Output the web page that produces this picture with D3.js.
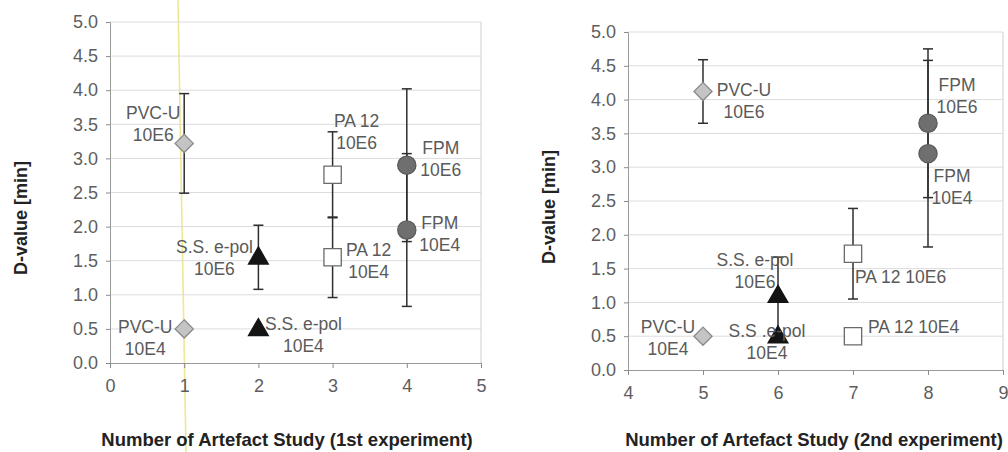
<!DOCTYPE html>
<html>
<head>
<meta charset="utf-8">
<script src="https://cdn.jsdelivr.net/npm/d3@7"></script>
<style>
  html, body { margin: 0; padding: 0; background: #ffffff; }
  svg { display: block; font-family: "Liberation Sans", Arial, sans-serif; }
</style>
</head>
<body>
<svg id="chart" width="1008" height="452"></svg>
<script>
// ---------- data ----------
const yTicks = [0, 0.5, 1, 1.5, 2, 2.5, 3, 3.5, 4, 4.5, 5];
const xTicks1 = [0, 1, 2, 3, 4, 5];
const xTicks2 = [4, 5, 6, 7, 8, 9];
const materials = ["PVC-U", "PVC-U", "S.S. e-pol", "S.S. e-pol", "PA 12", "PA 12", "FPM", "FPM"];

// 1st experiment
const exp1Study = [1, 1, 2, 2, 3, 3, 4, 4];
const exp1D     = [3.22, 0.5, 1.55, 0.5, 2.76, 1.55, 2.9, 1.95];
const exp1Err   = [0.73, 0, 0.47, 0, 0.63, 0.59, 1.12, 1.12];
const exp1Labels = ["PVC-U\n10E6", "PVC-U\n10E4", "S.S. e-pol\n10E6", "S.S. e-pol\n10E4",
                    "PA 12\n10E6", "PA 12\n10E4", "FPM\n10E6", "FPM\n10E4"];

// 2nd experiment
const exp2Study = [5, 5, 6, 6, 7, 7, 8, 8];
const exp2D     = [4.12, 0.5, 1.1, 0.5, 1.72, 0.5, 3.65, 3.2];
const exp2Err   = [0.47, 0, 0.57, 0, 0.67, 0, 1.1, 1.38];
const exp2Labels = ["PVC-U\n10E6", "PVC-U\n10E4", "S.S. e-pol\n10E6", "S.S .e-pol\n10E4",
                    "PA 12 10E6", "PA 12 10E4", "FPM\n10E6", "FPM\n10E4"];

const yTitle = "D-value [min]";
const xTitle1 = "Number of Artefact Study (1st experiment)";
const xTitle2 = "Number of Artefact Study (2nd experiment)";

// ---------- layout (label placement relative to marker) ----------
const labelLayout1 = [
  {a: "middle", dx: -31, dy: -24}, {a: "middle", dx: -39, dy: 4},
  {a: "middle", dx: -44, dy: -4},  {a: "middle", dx: 45, dy: 1},
  {a: "middle", dx: 24, dy: -48},  {a: "middle", dx: 36, dy: -1},
  {a: "middle", dx: 34, dy: -11},  {a: "middle", dx: 33, dy: -1}
];
const labelLayout2 = [
  {a: "middle", dx: 41, dy: 5},   {a: "middle", dx: -35, dy: -3},
  {a: "middle", dx: -23, dy: -30}, {a: "middle", dx: -11, dy: 1},
  {a: "start", dx: 2, dy: 29},    {a: "start", dx: 15, dy: -3},
  {a: "middle", dx: 29, dy: -32}, {a: "middle", dx: 24, dy: 28}
];

const svg = d3.select("#chart");

// scanning artefact: faint yellow line on left panel
svg.append("line")
  .attr("x1", 178).attr("y1", 0).attr("x2", 186).attr("y2", 452)
  .attr("stroke", "#ece27a").attr("stroke-width", 1.6).attr("opacity", 0.8);

function panel(cfg) {
  const x = d3.scaleLinear().domain(cfg.xDomain).range([cfg.left, cfg.right]);
  const y = d3.scaleLinear().domain([0, 5]).range([cfg.bottom, cfg.top]);
  const g = svg.append("g");

  // gridlines
  g.append("g").selectAll("line").data(yTicks.filter(t => t > 0)).join("line")
    .attr("x1", cfg.left).attr("x2", cfg.right)
    .attr("y1", d => y(d)).attr("y2", d => y(d))
    .attr("stroke", "#dcdcdc").attr("stroke-width", 1);
  // right border
  g.append("line").attr("x1", cfg.right).attr("x2", cfg.right)
    .attr("y1", cfg.top).attr("y2", cfg.bottom)
    .attr("stroke", "#cfcfcf");

  // axes
  const yAxis = d3.axisLeft(y).tickValues(yTicks).tickFormat(d3.format(".1f"))
    .tickSize(4).tickPadding(8);
  const xAxis = d3.axisBottom(x).tickValues(cfg.xTicks).tickFormat(d3.format("d"))
    .tickSize(5).tickPadding(11);
  const ya = g.append("g").attr("transform", `translate(${cfg.left},0)`).call(yAxis);
  const xa = g.append("g").attr("transform", `translate(0,${cfg.bottom})`).call(xAxis);
  [ya, xa].forEach(a => {
    a.select(".domain").attr("stroke", "#9a9a9a");
    a.selectAll(".tick line").attr("stroke", "#8a8a8a");
    a.selectAll(".tick text").attr("fill", "#5e5e5e")
      .style("font-size", "18px").style("font-family", "'Liberation Sans', Arial, sans-serif");
  });

  const pts = cfg.study.map((s, i) => ({
    s, v: cfg.d[i], e: cfg.err[i], label: cfg.labels[i], mat: materials[i], lay: cfg.layout[i]
  }));

  // error bars
  const eb = g.append("g").attr("stroke", "#2e2e2e").attr("stroke-width", 1.5);
  pts.filter(p => p.e > 0).forEach(p => {
    const cx = x(p.s);
    eb.append("line").attr("x1", cx).attr("x2", cx)
      .attr("y1", y(p.v - p.e)).attr("y2", y(p.v + p.e));
    [p.v - p.e, p.v + p.e].forEach(v => {
      eb.append("line").attr("x1", cx - 5).attr("x2", cx + 5)
        .attr("y1", y(v)).attr("y2", y(v));
    });
  });

  // markers
  const sym = {
    "PVC-U": {type: d3.symbolDiamond2, size: 210, fill: "#c4c4c4", stroke: "#8a8a8a"},
    "S.S. e-pol": {type: d3.symbolTriangle, size: 170, fill: "#141414", stroke: "#141414"},
    "PA 12": {type: d3.symbolSquare, size: 300, fill: "#ffffff", stroke: "#6a6a6a"},
    "FPM": {type: d3.symbolCircle, size: 260, fill: "#6f6f6f", stroke: "#5a5a5a"}
  };
  pts.forEach(p => {
    const m = sym[p.mat];
    const path = d3.symbol().type(m.type).size(m.size)();
    g.append("path").attr("d", path)
      .attr("transform", `translate(${x(p.s)},${y(p.v) + (p.mat === "S.S. e-pol" ? 1 : 0)})`)
      .attr("fill", m.fill).attr("stroke", m.stroke).attr("stroke-width", 1.3);
  });

  // data labels
  pts.forEach(p => {
    const lines = p.label.split("\n");
    const t = g.append("text")
      .attr("text-anchor", p.lay.a)
      .attr("fill", "#5a5a5a")
      .style("font-size", "17.5px");
    lines.forEach((ln, k) => {
      t.append("tspan").attr("x", x(p.s) + p.lay.dx)
        .attr("y", y(p.v) + p.lay.dy + k * 22).text(ln);
    });
  });

  // titles
  g.append("text").attr("x", cfg.xTitleX).attr("y", cfg.xTitleY)
    .attr("text-anchor", "middle").attr("fill", "#222")
    .style("font-size", "18.5px").style("font-weight", "bold").text(cfg.xTitle);
  g.append("text")
    .attr("transform", `translate(${cfg.yTitleX},${cfg.yTitleY}) rotate(-90)`)
    .attr("text-anchor", "middle").attr("fill", "#222")
    .style("font-size", "18px").style("font-weight", "bold").text(yTitle);
}

panel({
  xDomain: [0, 5], left: 110, right: 481, top: 22, bottom: 363,
  xTicks: xTicks1, study: exp1Study, d: exp1D, err: exp1Err, labels: exp1Labels,
  layout: labelLayout1, xTitle: xTitle1, xTitleX: 287, xTitleY: 446,
  yTitleX: 27, yTitleY: 218
});
panel({
  xDomain: [4, 9], left: 628, right: 1003, top: 32, bottom: 370,
  xTicks: xTicks2, study: exp2Study, d: exp2D, err: exp2Err, labels: exp2Labels,
  layout: labelLayout2, xTitle: xTitle2, xTitleX: 814, xTitleY: 446,
  yTitleX: 555, yTitleY: 207
});
</script>
</body>
</html>
